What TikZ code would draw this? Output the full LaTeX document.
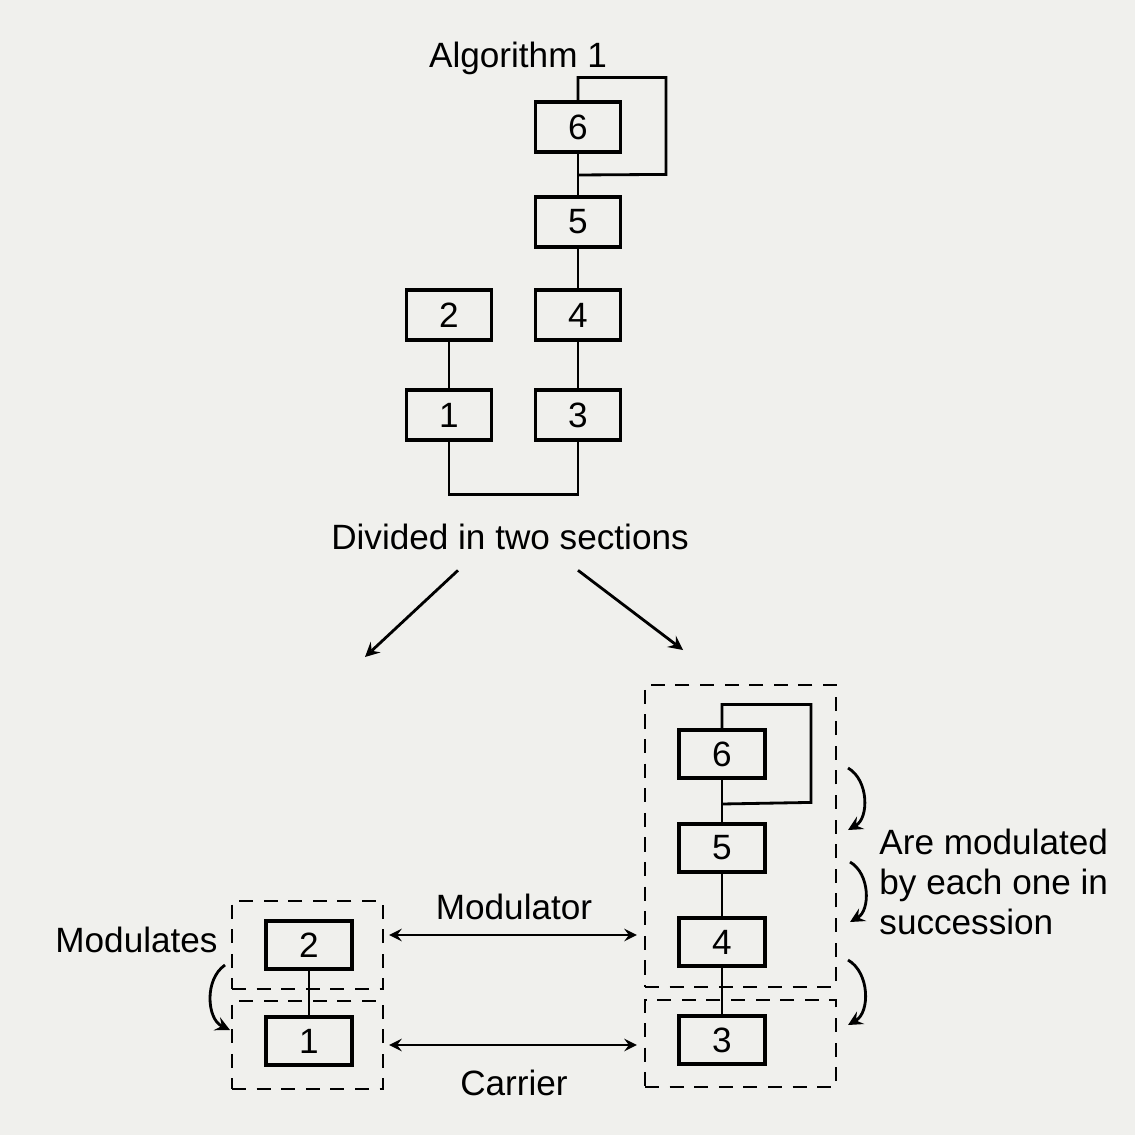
\documentclass[tikz,border=0pt]{standalone}
\usepackage{fontspec}
\setmainfont{Liberation Sans}
\definecolor{paper}{RGB}{240,240,237}
\begin{document}
\begin{tikzpicture}[
    font=\fontsize{10}{11.4}\selectfont,
    unit/.style={rectangle, draw, line width=0.9pt, minimum width=0.85cm, minimum height=0.5cm, inner sep=0pt},
    group/.style={rectangle, draw, line width=0.6pt, dash pattern=on 4pt off 3pt, inner sep=0pt},
    wire/.style={line width=0.8pt},
    arrow/.style={line width=0.8pt,->,>=stealth},
    twoway/.style={line width=0.6pt,<->,>=stealth},
    curl/.style={line width=0.8pt,->,>=stealth}
]
    % Background
    \fill [paper] (0,0) rectangle (11.35,-11.35);
    \useasboundingbox (0,0) rectangle (11.35,-11.35);

    % Algorithm 1
    \node (title) at (5.18,-0.58) {Algorithm 1};
    \node [unit] (six)   at (5.78,-1.27) {6};
    \node [unit] (five)  at (5.78,-2.22) {5};
    \node [unit] (four)  at (5.78,-3.15) {4};
    \node [unit] (three) at (5.78,-4.15) {3};
    \node [unit] (two)   at (4.49,-3.15) {2};
    \node [unit] (one)   at (4.49,-4.15) {1};
    \coordinate (topJoin) at (5.78,-1.75);

    \draw [wire] (six) -- (five);
    \draw [wire] (five) -- (four);
    \draw [wire] (four) -- (three);
    \draw [wire] (two) -- (one);
    \draw [wire] (six.north) -- ++(0,0.23) -| ++(0.88,-0.97) -- (topJoin);
    \draw [wire] (one.south) -- ++(0,-0.53) -| (three.south);

    % Split
    \node (divided) at (5.10,-5.37) {Divided in two sections};
    \coordinate (leftEnd) at (3.65,-6.57);
    \coordinate (rightEnd) at (6.83,-6.50);
    \draw [arrow] ([xshift=-0.52cm,yshift=-0.08cm]divided.south) -- (leftEnd);
    \draw [arrow] ([xshift=0.68cm,yshift=-0.08cm]divided.south) -- (rightEnd);

    % Modulator side
    \node [group, minimum width=1.51cm, minimum height=0.88cm] (grpTwo) at (3.075,-9.45) {};
    \node [group, minimum width=1.51cm, minimum height=0.88cm] (grpOne) at (3.075,-10.45) {};
    \node [unit, minimum width=0.86cm, minimum height=0.48cm] (lowTwo) at (3.09,-9.45) {2};
    \node [unit, minimum width=0.86cm, minimum height=0.48cm] (lowOne) at (3.09,-10.41) {1};
    \draw [wire] (lowTwo) -- (lowOne);
    \node [anchor=east] (modulates) at (2.30,-9.40) {Modulates};
    \coordinate (modA) at (2.25,-9.65);
    \coordinate (modB) at (2.30,-10.30);
    \draw [curl] (modA) to[bend right=60] (modB);

    % Carrier side
    \node [group, minimum width=1.91cm, minimum height=3.02cm] (grpHigh) at (7.405,-8.36) {};
    \node [group, minimum width=1.91cm, minimum height=0.87cm] (grpLow) at (7.405,-10.435) {};
    \node [unit, minimum width=0.86cm, minimum height=0.48cm] (lowSix)   at (7.22,-7.54) {6};
    \node [unit, minimum width=0.86cm, minimum height=0.48cm] (lowFive)  at (7.22,-8.48) {5};
    \node [unit, minimum width=0.86cm, minimum height=0.48cm] (lowFour)  at (7.22,-9.42) {4};
    \node [unit, minimum width=0.86cm, minimum height=0.48cm] (lowThree) at (7.22,-10.40) {3};
    \coordinate (lowJoin) at (7.22,-8.04);
    \draw [wire] (lowSix) -- (lowFive);
    \draw [wire] (lowFive) -- (lowFour);
    \draw [wire] (lowFour) -- (lowThree);
    \draw [wire] (lowSix.north) -- ++(0,0.24) -| ++(0.89,-0.98) -- (lowJoin);

    \coordinate (curlA) at (8.48,-7.68);
    \coordinate (curlB) at (8.48,-8.30);
    \coordinate (curlC) at (8.50,-8.62);
    \coordinate (curlD) at (8.50,-9.22);
    \coordinate (curlE) at (8.48,-9.60);
    \coordinate (curlF) at (8.48,-10.25);
    \draw [curl] (curlA) to[bend left=60] (curlB);
    \draw [curl] (curlC) to[bend left=60] (curlD);
    \draw [curl] (curlE) to[bend left=60] (curlF);
    \node [anchor=west, align=left] (succession) at (8.67,-8.82) {Are modulated\\by each one in\\succession};

    % Links
    \draw [twoway, shorten <=0.05cm, shorten >=0.07cm] ([yshift=0.1cm]grpTwo.east) -- ([yshift=0.1cm]grpTwo.east -| grpHigh.west)
        node [midway, above=0.02cm] (modulator) {Modulator};
    \draw [twoway, shorten <=0.05cm, shorten >=0.07cm] (grpOne.east) -- (grpOne.east -| grpLow.west)
        node [midway, below=0.12cm] (carrier) {Carrier};
\end{tikzpicture}
\end{document}
